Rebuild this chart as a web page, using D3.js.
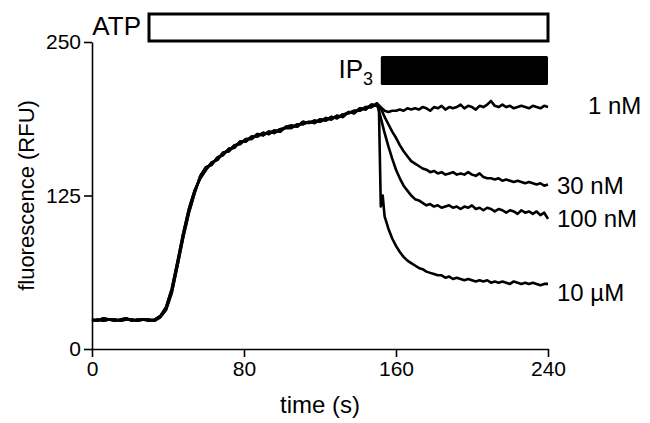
<!DOCTYPE html>
<html>
<head>
<meta charset="utf-8">
<script src="https://cdn.jsdelivr.net/npm/d3@7"></script>
<style>
  body { margin: 0; background: #fff; }
  svg text { font-family: "Liberation Sans", Arial, Helvetica, sans-serif; fill: #000; }
  .axis path, .axis line { stroke: #000; stroke-width: 1.6px; }
  .axis text { font-size: 21px; }
  .trace { fill: none; stroke: #000; stroke-width: 2.6px; stroke-linejoin: round; }
</style>
</head>
<body>
<script>
// sample times (s)
var tPre = [0, 3, 6, 9, 12, 15, 18, 21, 24, 27, 30, 33, 36, 39, 42, 45, 48, 51, 54, 57,
    60, 63, 66, 69, 72, 75, 78, 81, 84, 87, 90, 93, 96, 99, 102, 105, 108, 111, 114, 117,
    120, 123, 126, 129, 132, 135, 138, 141, 144, 147, 150];
var tPost = [150, 152, 154, 156, 158, 160, 162, 164, 166, 168, 170, 172, 174, 176, 178,
    180, 182, 184, 186, 188, 190, 192, 194, 196, 198, 200, 202, 204, 206, 208, 210, 212,
    214, 216, 218, 220, 222, 224, 226, 228, 230, 232, 234, 236, 238, 240];
var tFast = [150, 151, 152, 153, 154, 156, 158, 160, 162, 164, 166, 168, 170, 172, 174,
    176, 178, 180, 182, 184, 186, 188, 190, 192, 194, 196, 198, 200, 202, 204, 206, 208,
    210, 212, 214, 216, 218, 220, 222, 224, 226, 228, 230, 232, 234, 236, 238, 240];

// fluorescence (RFU) before IP3, two overlapping recordings
var preA = [24, 23, 25, 24, 23, 24, 25, 23, 24, 24, 23, 24, 27, 34, 49, 71, 94, 114, 129, 139,
    146, 152, 154, 160, 161, 166, 167, 171, 171, 175, 174, 177, 176, 179, 180, 180, 183, 183, 185, 184,
    187, 186, 189, 188, 191, 192, 194, 194, 197, 197, 200];
var preB = [23, 24, 23, 24, 24, 23, 24, 24, 23, 24, 24, 23, 26, 32, 46, 68, 91, 111, 127, 141,
    148, 150, 156, 158, 163, 164, 169, 169, 173, 173, 176, 175, 178, 177, 181, 182, 181, 185, 184, 186,
    185, 188, 187, 190, 189, 193, 192, 196, 195, 199, 198];

// fluorescence (RFU) after IP3
var nM1 = [200, 197, 194, 193, 194, 194, 195, 194, 196, 195, 196, 195, 197, 196, 194, 197,
    196, 198, 195, 197, 196, 197, 199, 196, 198, 197, 195, 198, 197, 199, 202, 198, 197, 199,
    197, 198, 196, 197, 198, 197, 196, 198, 197, 196, 198, 197];
var nM30 = [198, 196, 189, 183, 177, 172, 166, 161, 157, 153, 151, 149, 147, 146, 144, 145,
    143, 144, 142, 143, 144, 142, 143, 142, 144, 142, 141, 143, 140, 139, 139, 138, 139, 137,
    138, 137, 136, 137, 136, 135, 136, 135, 134, 135, 133, 134];
var nM100 = [200, 188, 176, 165, 155, 146, 139, 133, 129, 125, 122, 121, 119, 117, 118, 116,
    117, 115, 116, 117, 115, 116, 114, 116, 115, 117, 114, 115, 113, 115, 114, 112, 114, 113,
    111, 113, 112, 110, 113, 111, 112, 110, 112, 109, 111, 106];
var uM10 = [198, 197, 116, 125, 108, 98, 90, 84, 79, 75, 72, 70, 68, 66, 65, 63, 62, 61,
    60, 60, 58, 59, 57, 58, 57, 56, 57, 56, 55, 56, 55, 56, 54, 55, 54, 55, 54, 53, 55, 54,
    53, 54, 53, 54, 53, 52, 53, 53];

var concLabels = ["1 nM", "30 nM", "100 nM", "10 \u00b5M"];

// drug application periods (s)
var atpPeriod = [30, 240];
var ip3Period = [152, 240];

var xTicks = [0, 80, 160, 240];
var yTicks = [0, 125, 250];

function pairs(ts, vs) {
    return ts.map(function(t, i) { return [t, vs[i]]; });
}

// lx / dy: label placement next to the trace end
var series = [
    { pre: preA, t: tPost, post: nM1, label: concLabels[0], lx: 588, dy: 7 },
    { pre: preB, t: tPost, post: nM30, label: concLabels[1], lx: 557, dy: 10 },
    { pre: preA, t: tPost, post: nM100, label: concLabels[2], lx: 557, dy: 8 },
    { pre: preB, t: tFast, post: uM10, label: concLabels[3], lx: 557, dy: 17 }
];

var width = 650, height = 423;

var svg = d3.select("body").append("svg")
    .attr("width", width)
    .attr("height", height);

var x = d3.scaleLinear().domain([0, 240]).range([92, 548]);
var y = d3.scaleLinear().domain([0, 250]).range([349, 42]);

// axes
svg.append("g")
    .attr("class", "axis")
    .attr("transform", "translate(0," + y(0) + ")")
    .call(d3.axisBottom(x).tickValues(xTicks).tickSize(8).tickSizeOuter(0).tickPadding(4));

svg.append("g")
    .attr("class", "axis")
    .attr("transform", "translate(" + x(0) + ",0)")
    .call(d3.axisLeft(y).tickValues(yTicks).tickSize(8).tickSizeOuter(0).tickPadding(3));

// traces
var line = d3.line()
    .x(function(d) { return x(d[0]); })
    .y(function(d) { return y(d[1]); });

series.forEach(function(s) {
    var pts = pairs(tPre, s.pre).concat(pairs(s.t, s.post).slice(1));
    svg.append("path")
        .attr("class", "trace")
        .attr("d", line(pts));

    var last = s.post[s.post.length - 1];
    svg.append("text")
        .attr("x", s.lx)
        .attr("y", y(last) + s.dy)
        .style("font-size", "24px")
        .text(s.label);
});

// ATP bar
svg.append("rect")
    .attr("x", x(atpPeriod[0]))
    .attr("y", 14)
    .attr("width", x(atpPeriod[1]) - x(atpPeriod[0]))
    .attr("height", 27)
    .attr("fill", "#fff")
    .attr("stroke", "#000")
    .attr("stroke-width", 3);

svg.append("text")
    .attr("x", 141)
    .attr("y", 35)
    .attr("text-anchor", "end")
    .style("font-size", "26px")
    .text("ATP");

// IP3 bar
svg.append("rect")
    .attr("x", x(ip3Period[0]))
    .attr("y", 56)
    .attr("width", x(ip3Period[1]) - x(ip3Period[0]))
    .attr("height", 29)
    .attr("fill", "#000")
    .attr("rx", 1.5);

var ip3 = svg.append("text")
    .attr("x", 373)
    .attr("y", 78)
    .attr("text-anchor", "end")
    .style("font-size", "26px");
ip3.append("tspan").text("IP");
ip3.append("tspan").attr("dy", 7).style("font-size", "18px").text("3");

// axis titles
svg.append("text")
    .attr("transform", "translate(34," + y(125) + ") rotate(-90)")
    .attr("text-anchor", "middle")
    .style("font-size", "22px")
    .text("fluorescence (RFU)");

svg.append("text")
    .attr("x", x(120))
    .attr("y", 413)
    .attr("text-anchor", "middle")
    .style("font-size", "24px")
    .text("time (s)");
</script>
</body>
</html>
